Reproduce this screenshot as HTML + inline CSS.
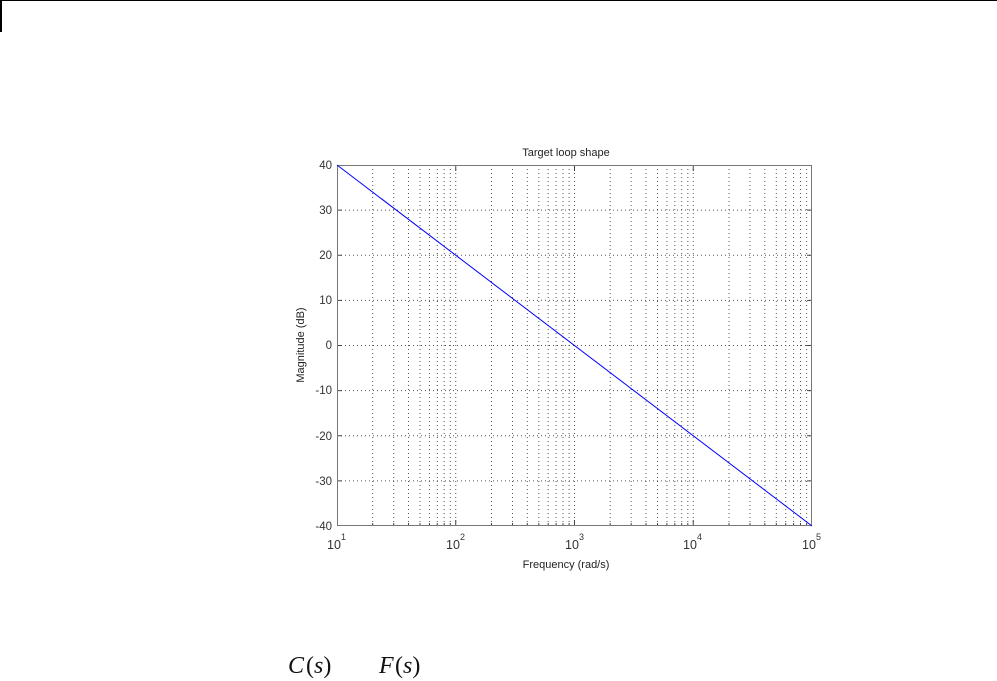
<!DOCTYPE html>
<html><head><style>
body{margin:0;background:#fff;width:997px;height:681px;overflow:hidden;position:relative;font-family:"Liberation Sans",sans-serif}
.m{position:absolute;font-family:"Liberation Serif",serif;font-style:italic;font-size:24px;color:#111}
</style></head><body>
<div style="position:absolute;left:0;top:0;width:997px;height:1px;background:#000"></div>
<div style="position:absolute;left:0;top:0;width:2px;height:32px;background:#000"></div>
<svg width="997" height="681" style="position:absolute;left:0;top:0" font-family="Liberation Sans, sans-serif">
<g stroke="#555" stroke-width="1" stroke-dasharray="1,3" fill="none">
<path d="M372.7 165V526M393.7 165V526M408.5 165V526M420 165V526M429.4 165V526M437.3 165V526M444.2 165V526M450.3 165V526M455.75 165V526
M491.5 165V526M512.5 165V526M527.3 165V526M538.8 165V526M548.2 165V526M556.1 165V526M563 165V526M569.1 165V526M574.5 165V526
M610.2 165V526M631.2 165V526M646 165V526M657.5 165V526M666.9 165V526M674.8 165V526M681.7 165V526M687.8 165V526M693.25 165V526
M729 165V526M750 165V526M764.8 165V526M776.3 165V526M785.7 165V526M793.6 165V526M800.5 165V526M806.6 165V526"/>
<path d="M337 210.1H812M337 255.3H812M337 300.4H812M337 345.5H812M337 390.6H812M337 435.8H812M337 480.9H812"/>
</g>
<g stroke="#444" stroke-width="1">
<path d="M455.75 526v-6M574.5 526v-6M693.25 526v-6M455.75 165v6M574.5 165v6M693.25 165v6"/>
<path d="M372.7 526v-3M393.7 526v-3M408.5 526v-3M420 526v-3M429.4 526v-3M437.3 526v-3M444.2 526v-3M450.3 526v-3M491.5 526v-3M512.5 526v-3M527.3 526v-3M538.8 526v-3M548.2 526v-3M556.1 526v-3M563 526v-3M569.1 526v-3M610.2 526v-3M631.2 526v-3M646 526v-3M657.5 526v-3M666.9 526v-3M674.8 526v-3M681.7 526v-3M687.8 526v-3M729 526v-3M750 526v-3M764.8 526v-3M776.3 526v-3M785.7 526v-3M793.6 526v-3M800.5 526v-3M806.6 526v-3"/>
<path d="M337 210.1h5M337 255.3h5M337 300.4h5M337 345.5h5M337 390.6h5M337 435.8h5M337 480.9h5M812 210.1h-5M812 255.3h-5M812 300.4h-5M812 345.5h-5M812 390.6h-5M812 435.8h-5M812 480.9h-5"/>
</g>
<rect x="337.5" y="165.5" width="474" height="360" fill="none" stroke="#777" stroke-width="1"/>
<line x1="337" y1="165" x2="812" y2="526" stroke="#0000ff" stroke-width="1"/>
<g font-size="11.5" fill="#333" text-anchor="end">
<text x="332" y="169">40</text><text x="332" y="214">30</text><text x="332" y="259">20</text><text x="332" y="304">10</text><text x="332" y="349">0</text><text x="332" y="394">-10</text><text x="332" y="440">-20</text><text x="332" y="485">-30</text><text x="332" y="530">-40</text>
</g>
<g font-size="12.5" fill="#333" text-anchor="middle">
<text x="334" y="549">10</text><text x="453" y="549">10</text><text x="572" y="549">10</text><text x="690" y="549">10</text><text x="809" y="549">10</text>
</g>
<g font-size="9" fill="#333">
<text x="341" y="540">1</text><text x="460" y="540">2</text><text x="579" y="540">3</text><text x="697" y="540">4</text><text x="816" y="540">5</text>
</g>
<text x="566" y="156" font-size="11" fill="#222" text-anchor="middle">Target loop shape</text>
<text x="566" y="568" font-size="11" fill="#222" text-anchor="middle">Frequency  (rad/s)</text>
<text transform="translate(304,345) rotate(-90)" font-size="11" fill="#222" text-anchor="middle">Magnitude (dB)</text>
</svg>
<div class="m" style="left:288px;top:653px">C</div><div class="m" style="left:306px;top:653px;font-style:normal">(<i>s</i>)</div>
<div class="m" style="left:379px;top:653px">F</div><div class="m" style="left:395px;top:653px;font-style:normal">(<i>s</i>)</div>
</body></html>
